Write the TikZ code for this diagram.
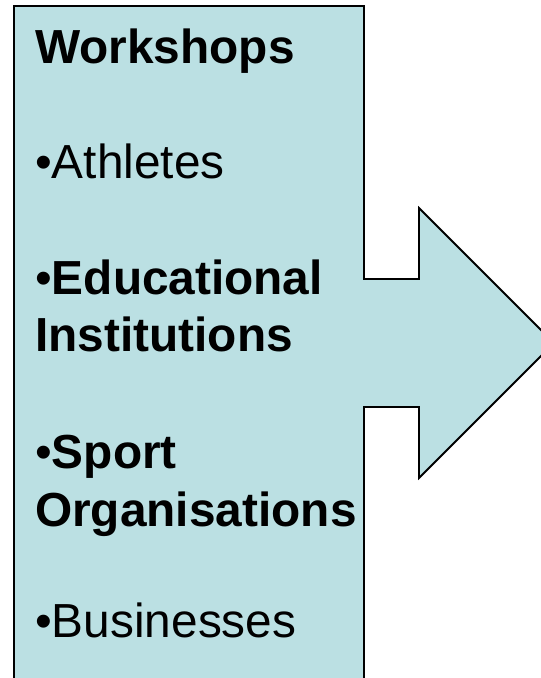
\documentclass[tikz,border=0pt]{standalone}
\usepackage{fontspec}
\setmainfont{Liberation Sans}
\definecolor{boxfill}{HTML}{BBE0E3}
\begin{document}
\begin{tikzpicture}[x=1pt,y=-1pt,
  txt/.style={anchor=base west,inner sep=0pt,font=\fontsize{47.8}{54}\selectfont}]
\useasboundingbox (0,0) rectangle (541,678);
\clip (0,0) rectangle (541,678);
\draw[fill=boxfill,line width=1.8pt,line join=miter]
  (14,700) -- (14,6) -- (364,6) -- (364,279) -- (419,279) -- (419,208)
  -- (554,343) -- (419,478) -- (419,407) -- (364,407) -- (364,700);
\node[txt] (t1) at (35,63) {\bfseries Workshops};
\node[txt] (t2) at (35,178) {•Athletes};
\node[txt] (t3) at (35,294) {•\bfseries Educational};
\node[txt] (t4) at (35,351) {\bfseries Institutions};
\node[txt] (t5) at (35,468) {•\bfseries Sport};
\node[txt] (t6) at (35,526) {\bfseries Organisations};
\node[txt] (t7) at (35,637) {•Businesses};
\end{tikzpicture}
\end{document}
